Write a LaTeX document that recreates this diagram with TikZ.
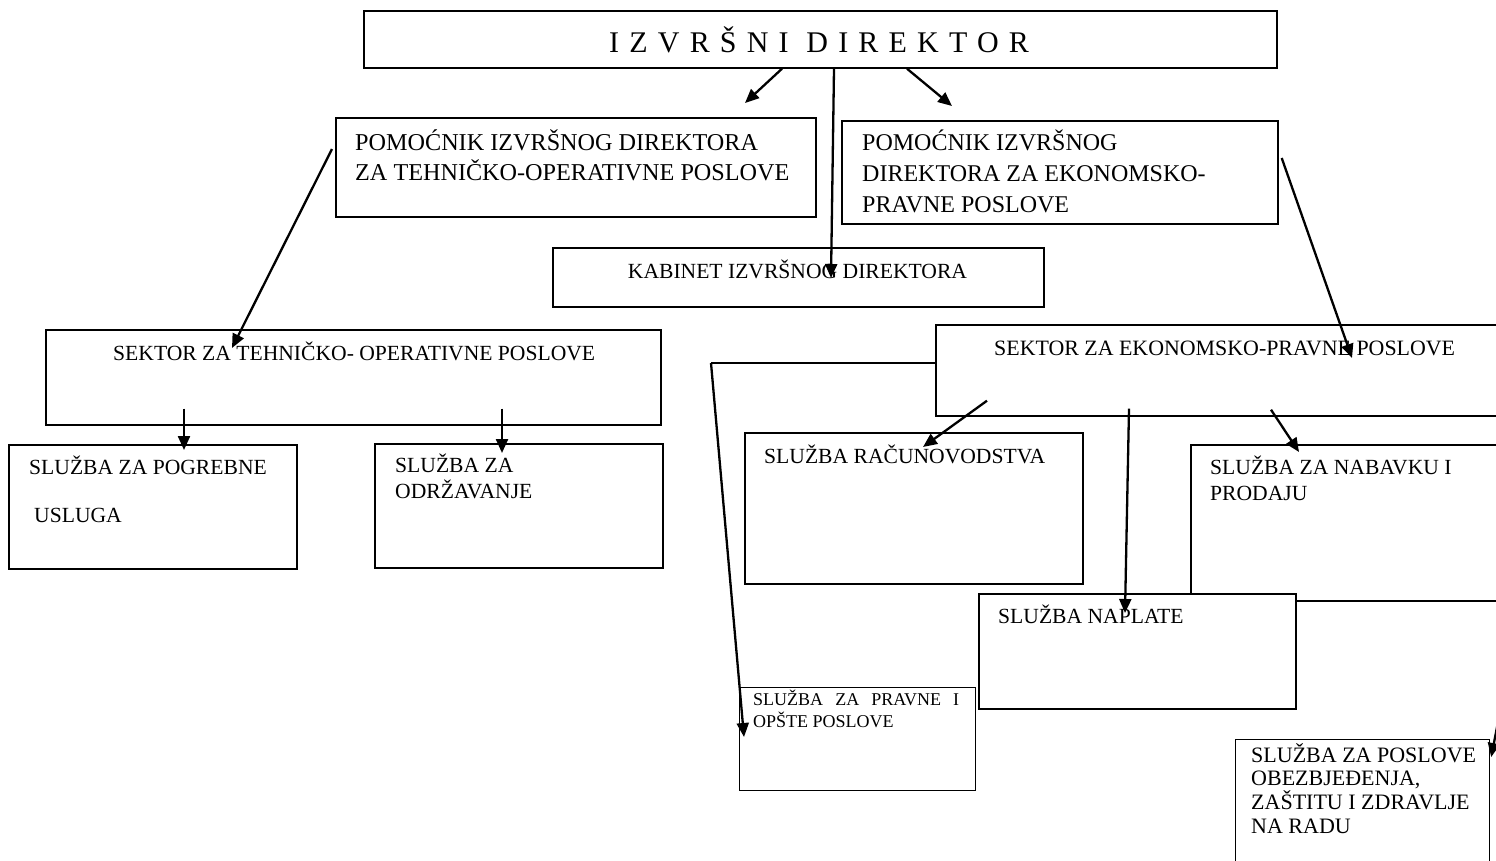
\documentclass[tikz,border=0pt]{standalone}
\usepackage{fontspec}
\setmainfont{Liberation Serif}
\usetikzlibrary{calc,arrows.meta}
\newcommand{\fst}{\rule{0pt}{1em}}
\tikzset{
  box/.style={draw=black, line width=1.7pt, fill=white, rectangle, inner sep=0pt, anchor=north west},
  lbl/.style={inner sep=0pt, align=left, text=black},
  std/.style={font=\fontsize{21.6}{26}\selectfont},
  arr/.style={draw=black, line width=2.3pt, -{Triangle[length=14pt,width=12pt]}},
}
\begin{document}
\begin{tikzpicture}[x=1pt,y=-1pt]
\useasboundingbox (0,0) rectangle (1496,860);
\clip (0,0) rectangle (1496,860);
\fill[white] (0,0) rectangle (1496,860);
% boxes
\node[box, minimum width=913pt, minimum height=57pt] (top) at (363,10) {};
\node[box, minimum width=480pt, minimum height=99pt] (pto) at (335,117) {};
\node[box, minimum width=436pt, minimum height=103pt] (pep) at (841,120) {};
\node[box, minimum width=491pt, minimum height=59pt] (kab) at (552,247) {};
\node[box, minimum width=615pt, minimum height=95pt] (sto) at (45,329) {};
\node[box, minimum width=288pt, minimum height=124pt] (pog) at (8,444) {};
\node[box, minimum width=288pt, minimum height=124pt] (odr) at (374,443) {};
\node[box, minimum width=600pt, minimum height=91pt] (sep) at (935,324) {};
\node[box, minimum width=338pt, minimum height=151pt] (rac) at (744,432) {};
\node[box, minimum width=400pt, minimum height=156pt] (nab) at (1190,444) {};
\node[box, minimum width=317pt, minimum height=115pt] (npl) at (978,593) {};
\node[box, minimum width=236pt, minimum height=103pt, line width=1.2pt] (prv) at (739,687) {};
\node[box, minimum width=254pt, minimum height=200pt, line width=1.2pt] (obz) at (1235,739) {};
% labels
\node[lbl, anchor=base west, font=\fontsize{30}{36}\selectfont\addfontfeature{LetterSpace=34}] (ttl) at (609,52) {IZVRŠNI DIREKTOR};
\node[lbl, anchor=north west, font=\fontsize{24.2}{30}\selectfont] (tpto) at (355,125.8) {\fst POMOĆNIK IZVRŠNOG DIREKTORA\\ZA TEHNIČKO-OPERATIVNE POSLOVE};
\node[lbl, anchor=north west, font=\fontsize{24}{31}\selectfont] (tpep) at (862,126) {\fst POMOĆNIK IZVRŠNOG\\DIREKTORA ZA EKONOMSKO-\\PRAVNE POSLOVE};
\node[lbl, std, anchor=base] (tkab) at (797.5,278) {KABINET IZVRŠNOG DIREKTORA};
\node[lbl, std, anchor=base west] (tsto) at (113,360) {SEKTOR ZA TEHNIČKO- OPERATIVNE POSLOVE};
\node[lbl, std, anchor=north west] (tpog) at (29,452.4) {\fst SLUŽBA ZA POGREBNE\\[22pt]\hspace*{5pt}USLUGA};
\node[lbl, std, anchor=north west] (todr) at (395,450.4) {\fst SLUŽBA ZA\\ODRŽAVANJE};
\node[lbl, anchor=base west, font=\fontsize{21.9}{26}\selectfont] (tsep) at (994,355) {SEKTOR ZA EKONOMSKO-PRAVNE POSLOVE};
\node[lbl, std, anchor=base west] (trac) at (764,463) {SLUŽBA RAČUNOVODSTVA};
\node[lbl, std, anchor=north west] (tnab) at (1210,452.4) {\fst SLUŽBA ZA NABAVKU I\\PRODAJU};
\node[lbl, std, anchor=base west] (tnpl) at (998,623) {SLUŽBA NAPLATE};
\node[lbl, anchor=north west, font=\fontsize{18}{22}\selectfont] (tprv) at (753,687) {\fst\makebox[206pt][s]{SLUŽBA ZA PRAVNE I}\\OPŠTE POSLOVE};
\node[lbl, anchor=north west, font=\fontsize{22}{23.7}\selectfont] (tobz) at (1251,740) {\fst SLUŽBA ZA POSLOVE\\OBEZBJEĐENJA,\\ZAŠTITU I ZDRAVLJE\\NA RADU};
% connectors
\coordinate (bend) at (711,363);
\coordinate (offR) at (1498,722);
\draw[arr] (782,0 |- top.south) -- ($(pto.north west)+(410,-14)$);
\draw[arr] (907,0 |- top.south) -- ($(pep.north west)+(111,-14)$);
\draw[arr] (834,0 |- top.south) -- ($(kab.north west)+(279,31)$);
\draw[arr] ($(pto.north west)+(-3,32)$) -- ($(sto.north west)+(187,19)$);
\draw[arr] ($(pep.north east)+(3,38)$) -- ($(sep.north west)+(417,34)$);
\draw[arr] ($(sto.south west)+(139,-17)$) -- ($(pog.north west)+(176,6)$);
\draw[arr] ($(sto.south west)+(457,-17)$) -- ($(odr.north west)+(128,10)$);
\draw[arr] ($(sep.south west)+(52,-16)$) -- ($(rac.north west)+(179,15)$);
\draw[arr] ($(sep.south west)+(194,-8)$) -- ($(npl.north west)+(147,20)$);
\draw[arr] ($(sep.south west)+(336,-7)$) -- ($(nab.north west)+(109,8)$);
\draw[line width=1.7pt] ($(sep.north west)+(0,39)$) -- (bend);
\draw[arr] (bend) -- ($(prv.north west)+(5,50)$);
\draw[arr] (offR) -- ($(obz.north east)+(1,18)$);
\end{tikzpicture}
\end{document}
